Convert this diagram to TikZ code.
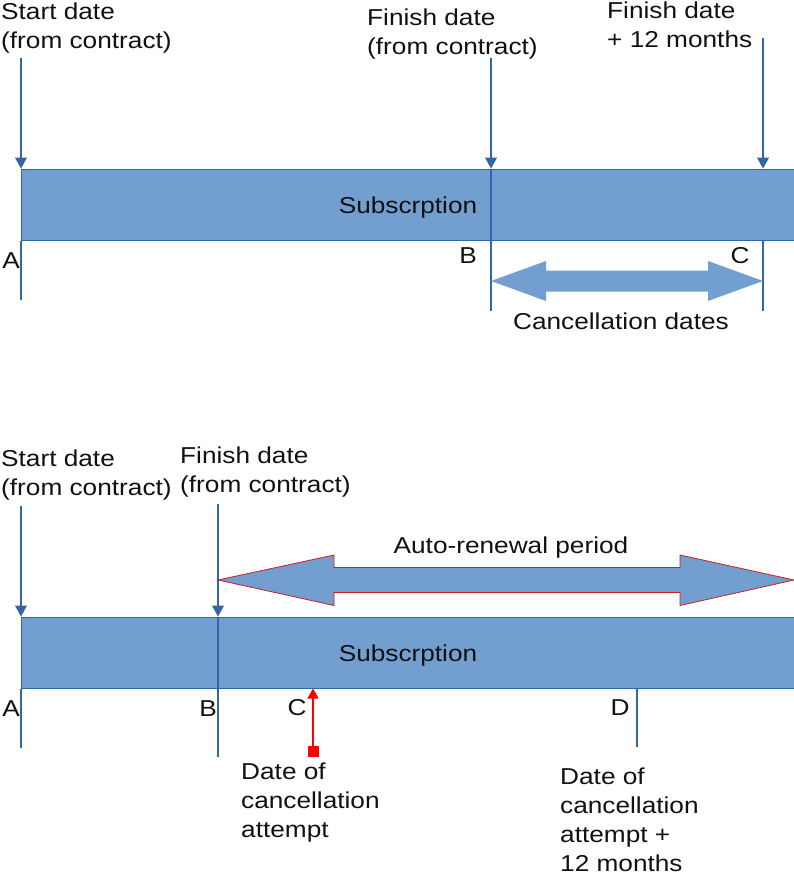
\documentclass[tikz,border=0pt]{standalone}
\usepackage{fontspec}
\setmainfont[FakeStretch=1.14]{Liberation Sans}
\usetikzlibrary{arrows.meta,calc}
\definecolor{barfill}{HTML}{729FCF}
\definecolor{barline}{HTML}{3465A4}
\definecolor{redline}{HTML}{C9211E}
\definecolor{txt}{HTML}{111111}
\tikzset{
  bar/.style={draw=barline, line width=1pt, fill=barfill, minimum width=774pt, minimum height=71pt, inner sep=0pt},
  lbl/.style={inner sep=0pt, text=txt, font=\fontsize{23}{29}\selectfont},
  mlbl/.style={lbl, align=left, anchor=north west},
  vline/.style={draw=barline, line width=1.1pt},
  varrow/.style={vline, -{Triangle[width=12pt,length=11pt]}},
  fatarrow/.style={fill=barfill},
}
\begin{document}
\begin{tikzpicture}[x=1pt,y=-1pt]
\useasboundingbox (0,0) rectangle (794,872);
% ---------- top diagram ----------
\node[bar] (bar1) at (408,204.5) {};
\node[lbl] (sub1) at (408,207.5) {Subscrption};
\coordinate (a1top) at (21,58);  \coordinate (a1bot) at (21,300);
\coordinate (b1top) at (491,58); \coordinate (b1bot) at (491,311);
\coordinate (c1top) at (763,38); \coordinate (c1bot) at (763,311);
\draw[varrow] (a1top) -- (a1top |- bar1.north);
\draw[vline] (a1top |- bar1.south) -- (a1bot);
\draw[varrow] (b1top) -- (b1top |- bar1.north);
\draw[vline] (b1top |- bar1.north) -- (b1bot);
\draw[varrow] (c1top) -- (c1top |- bar1.north);
\draw[vline] (c1top |- bar1.south) -- (c1bot);
\node[mlbl] (start1) at (1,2.5) {Start date\\(from contract)};
\node[mlbl] (finish1) at (367,9) {Finish date\\(from contract)};
\node[mlbl] (finish12) at (607,2) {Finish date\\+ 12 months};
\node[lbl, anchor=base] (A1) at (11,268) {A};
\node[lbl, anchor=base] (B1) at (468,263) {B};
\node[lbl, anchor=base] (C1) at (740,263) {C};
% cancellation double arrow
\coordinate (cl) at (491,281); \coordinate (cr) at (763,281);
\fill[fatarrow] (cl) -- ++(55,-20) -- ++(0,9.5) -- ($(cr)+(-55,-10.5)$) -- ++(0,-9.5) -- (cr)
  -- ++(-55,20) -- ++(0,-9.5) -- ($(cl)+(55,10.5)$) -- ++(0,9.5) -- cycle;
\node[lbl, anchor=base] (canc) at (621,329) {Cancellation dates};
% ---------- bottom diagram ----------
\node[bar] (bar2) at (408,652.5) {};
\node[lbl] (sub2) at (408,655.5) {Subscrption};
\coordinate (a2top) at (21,506);  \coordinate (a2bot) at (21,748);
\coordinate (b2top) at (218,504); \coordinate (b2bot) at (218,757);
\coordinate (d2bot) at (637,747);
\draw[varrow] (a2top) -- (a2top |- bar2.north);
\draw[vline] (a2top |- bar2.south) -- (a2bot);
\draw[varrow] (b2top) -- (b2top |- bar2.north);
\draw[vline] (b2top |- bar2.north) -- (b2bot);
\draw[vline] (d2bot |- bar2.south) -- (d2bot);
\node[mlbl] (start2) at (1,450) {Start date\\(from contract)};
\node[mlbl] (finish2) at (180,447) {Finish date\\(from contract)};
% auto-renewal double arrow
\coordinate (al) at (218,580); \coordinate (ar) at (794,580);
\draw[fatarrow, draw=redline, line width=0.8pt] (al) -- (334,555) -- (334,567.5) -- (680,567.5) -- (680,555) -- (ar)
  -- (680,605.5) -- (680,592.5) -- (334,592.5) -- (334,605.5) -- cycle;
\node[lbl, anchor=base] (auto) at (511,553) {Auto-renewal period};
\node[lbl, anchor=base] (A2) at (11,716) {A};
\node[lbl, anchor=base] (B2) at (208,716) {B};
\node[lbl, anchor=base] (C2) at (297,715) {C};
\node[lbl, anchor=base] (D2) at (620,715) {D};
% cancellation attempt
\coordinate (att) at (313,757);
\draw[red, line width=1.2pt, {Square[length=11pt,width=11pt]}-{Triangle[width=11pt,length=10pt]}] (att) -- (att |- bar2.south);
\node[mlbl] (attempt) at (241,763) {Date of\\cancellation\\attempt};
\node[mlbl] (attempt12) at (560,768) {Date of\\cancellation\\attempt +\\12 months};
\end{tikzpicture}
\end{document}
